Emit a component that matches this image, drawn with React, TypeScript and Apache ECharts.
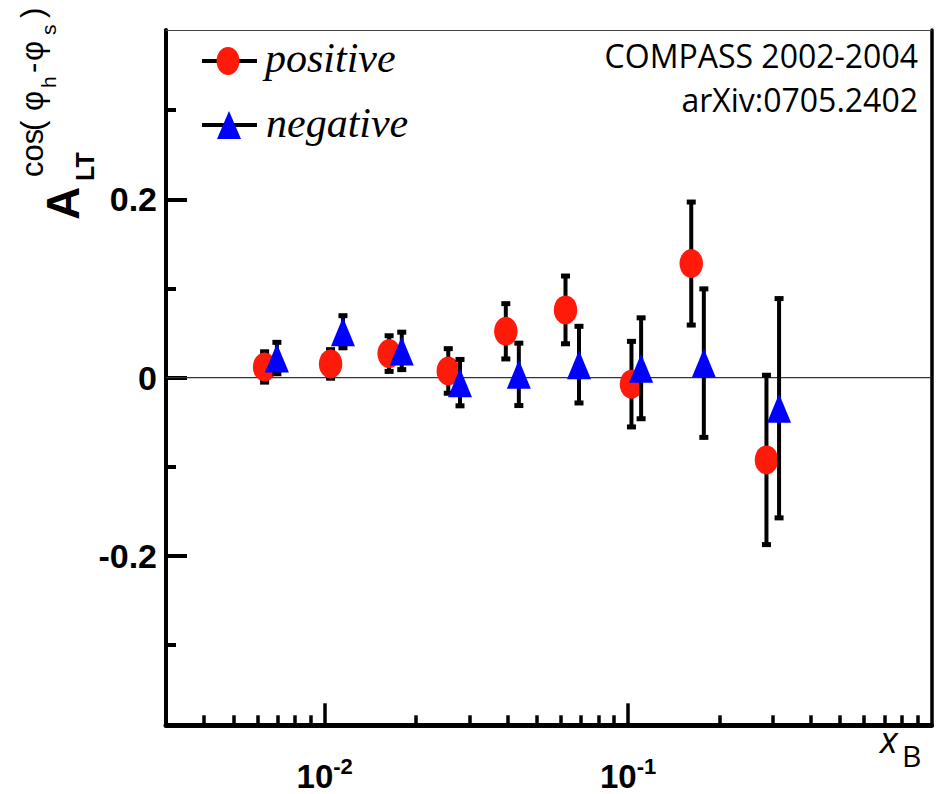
import React, { useEffect, useRef } from 'react';
import * as echarts from 'echarts';

// ---- data ----
const xPositive = [0.00634, 0.01046, 0.01631, 0.02555, 0.03954, 0.0622, 0.1026, 0.1615, 0.2858];
const yPositive = [0.012, 0.0154, 0.027, 0.0075, 0.052, 0.076, -0.0073, 0.128, -0.0923];
const errPositive = [0.017, 0.016, 0.02, 0.025, 0.031, 0.038, 0.048, 0.069, 0.095];

const xNegative = [0.00696, 0.01149, 0.01795, 0.02793, 0.04365, 0.0689, 0.1104, 0.1777, 0.3145];
const yNegative = [0.022, 0.0515, 0.03, -0.0056, 0.0037, 0.0146, 0.0105, 0.0163, -0.0343];
const errNegative = [0.0176, 0.018, 0.021, 0.026, 0.035, 0.043, 0.0566, 0.0833, 0.123];

const xMin = 0.003;
const xMax = 1;
const yMin = -0.39;
const yMax = 0.39;
const xMajorTicks = [0.01, 0.1];
const xMinorTicks = [
  0.004, 0.005, 0.006, 0.007, 0.008, 0.009,
  0.02, 0.03, 0.04, 0.05, 0.06, 0.07, 0.08, 0.09,
  0.2, 0.3, 0.4, 0.5, 0.6, 0.7, 0.8, 0.9,
];
const yMajorTicks = [-0.2, 0, 0.2];
const yMinorTicks = [-0.3, -0.1, 0.1, 0.3];

const legendLabels = ['positive', 'negative'];
const infoLines = ['COMPASS 2002-2004', 'arXiv:0705.2402'];

const RED = '#ff1a0a';
const BLUE = '#0000ff';
const SANS = "'Liberation Sans', Arial, sans-serif";

const errorBarRender = (_params: any, api: any) => {
  const x = api.value(0);
  const y = api.value(1);
  const e = api.value(2);
  const top = api.coord([x, y + e]);
  const bot = api.coord([x, y - e]);
  const capW = 9;
  const capH = 5;
  return {
    type: 'group',
    children: [
      {
        type: 'line',
        shape: { x1: top[0], y1: top[1], x2: bot[0], y2: bot[1] },
        style: { stroke: '#000', lineWidth: 4 },
      },
      {
        type: 'rect',
        shape: { x: top[0] - capW / 2, y: top[1] - capH / 2, width: capW, height: capH },
        style: { fill: '#000' },
      },
      {
        type: 'rect',
        shape: { x: bot[0] - capW / 2, y: bot[1] - capH / 2, width: capW, height: capH },
        style: { fill: '#000' },
      },
    ],
  };
};

function rotText(text: string, x: number, y: number, size: number, bold = false) {
  return {
    type: 'text',
    x,
    y,
    rotation: Math.PI / 2,
    style: {
      text,
      fontFamily: SANS,
      fontSize: size,
      fontWeight: bold ? 'bold' : 'normal',
      fill: '#000',
      align: 'left',
      verticalAlign: 'middle',
    },
  };
}

export default function App() {
  const ref = useRef<HTMLDivElement>(null);

  useEffect(() => {
    if (!ref.current) return;
    const chart = echarts.init(ref.current, undefined, { renderer: 'svg' });

    const posData = xPositive.map((x, i) => [x, yPositive[i], errPositive[i]]);
    const negData = xNegative.map((x, i) => [x, yNegative[i], errNegative[i]]);

    const option: any = {
      animation: false,
      backgroundColor: '#fff',
      grid: { left: 166, top: 30, width: 765.5, height: 695.3, containLabel: false },
      xAxis: [
        {
          type: 'log',
          logBase: 10,
          min: xMin,
          max: xMax,
          position: 'bottom',
          axisLine: { show: true, onZero: false, lineStyle: { color: '#000', width: 5 } },
          axisTick: { show: true, inside: true, length: 22, lineStyle: { color: '#000', width: 3.5 }, customValues: xMajorTicks },
          minorTick: { show: false },
          splitLine: { show: false },
          axisLabel: {
            show: true,
            customValues: xMajorTicks,
            margin: 30,
            formatter: (v: number) => `{b|10}{s|${Math.round(Math.log10(v))}}`,
            rich: {
              b: { fontFamily: SANS, fontWeight: 'bold', fontSize: 33, lineHeight: 38, color: '#000', verticalAlign: 'bottom' },
              s: { fontFamily: SANS, fontWeight: 'bold', fontSize: 22, lineHeight: 10, color: '#000', verticalAlign: 'top' },
            },
          },
        },
        {
          type: 'log',
          logBase: 10,
          min: xMin,
          max: xMax,
          position: 'bottom',
          axisLine: { show: false, onZero: false },
          axisTick: { show: true, inside: true, length: 10, lineStyle: { color: '#000', width: 3.5 }, customValues: xMinorTicks },
          axisLabel: { show: false },
          splitLine: { show: false },
        },
        {
          type: 'log',
          logBase: 10,
          min: xMin,
          max: xMax,
          position: 'top',
          axisLine: { show: true, onZero: false, lineStyle: { color: '#444', width: 1.2 } },
          axisTick: { show: false },
          axisLabel: { show: false },
          splitLine: { show: false },
        },
      ],
      yAxis: [
        {
          type: 'value',
          min: yMin,
          max: yMax,
          position: 'left',
          axisLine: { show: true, onZero: false, lineStyle: { color: '#000', width: 4 } },
          axisTick: { show: true, inside: true, length: 21, lineStyle: { color: '#000', width: 4 }, customValues: yMajorTicks },
          splitLine: { show: false },
          axisLabel: {
            show: true,
            customValues: yMajorTicks,
            formatter: (v: number) => (Math.abs(v) < 1e-9 ? '0' : v.toFixed(1)),
            fontFamily: SANS,
            fontWeight: 'bold',
            fontSize: 34,
            color: '#000',
            margin: 9,
            padding: [10, 0, 0, 0],
          },
        },
        {
          type: 'value',
          min: yMin,
          max: yMax,
          position: 'left',
          axisLine: { show: false, onZero: false },
          axisTick: { show: true, inside: true, length: 10, lineStyle: { color: '#000', width: 4 }, customValues: yMinorTicks },
          axisLabel: { show: false },
          splitLine: { show: false },
        },
        {
          type: 'value',
          min: yMin,
          max: yMax,
          position: 'right',
          axisLine: { show: true, onZero: false, lineStyle: { color: '#000', width: 3.5 } },
          axisTick: { show: false },
          axisLabel: { show: false },
          splitLine: { show: false },
        },
      ],
      series: [
        {
          type: 'line',
          name: 'zero',
          data: [[xMin, 0], [xMax, 0]],
          symbol: 'none',
          lineStyle: { color: '#333', width: 1.3 },
          z: 1,
          silent: true,
        },
        {
          type: 'custom',
          name: 'positive-err',
          data: posData,
          encode: { x: 0, y: 1 },
          renderItem: errorBarRender,
          clip: false,
          z: 3,
          silent: true,
        },
        {
          type: 'scatter',
          name: 'positive',
          data: posData.map((d) => [d[0], d[1]]),
          symbol: 'circle',
          symbolSize: [23.5, 29],
          itemStyle: { color: RED, opacity: 1 },
          z: 4,
        },
        {
          type: 'custom',
          name: 'negative-err',
          data: negData,
          encode: { x: 0, y: 1 },
          renderItem: errorBarRender,
          clip: false,
          z: 5,
          silent: true,
        },
        {
          type: 'scatter',
          name: 'negative',
          data: negData.map((d) => [d[0], d[1]]),
          symbol: 'triangle',
          symbolSize: [24, 29],
          itemStyle: { color: BLUE, opacity: 1 },
          z: 6,
        },
      ],
      graphic: [
        // legend
        { type: 'line', shape: { x1: 202, y1: 61, x2: 257, y2: 61 }, style: { stroke: '#000', lineWidth: 4 } },
        { type: 'ellipse', shape: { cx: 228, cy: 61, rx: 11.5, ry: 14 }, style: { fill: RED } },
        {
          type: 'text', x: 265, y: 58,
          style: { text: legendLabels[0], fontFamily: "'Liberation Serif', 'Times New Roman', serif", fontStyle: 'italic', fontSize: 42, fill: '#000', align: 'left', verticalAlign: 'middle' },
        },
        { type: 'line', shape: { x1: 202, y1: 125, x2: 257, y2: 125 }, style: { stroke: '#000', lineWidth: 4 } },
        { type: 'polygon', shape: { points: [[229, 111], [241, 139], [217, 139]] }, style: { fill: BLUE } },
        {
          type: 'text', x: 266, y: 123,
          style: { text: legendLabels[1], fontFamily: "'Liberation Serif', 'Times New Roman', serif", fontStyle: 'italic', fontSize: 42, fill: '#000', align: 'left', verticalAlign: 'middle' },
        },
        // info text
        {
          type: 'text', x: 918, y: 55.6,
          style: { text: infoLines[0], fontFamily: "'Open Sans', sans-serif", fontSize: 32, fill: '#000', align: 'right', verticalAlign: 'middle' },
        },
        {
          type: 'text', x: 918, y: 99.6,
          style: { text: infoLines[1], fontFamily: "'Open Sans', sans-serif", fontSize: 32, fill: '#000', align: 'right', verticalAlign: 'middle' },
        },
        // x axis name
        {
          type: 'text', x: 880, y: 738.6,
          style: { text: 'x', fontFamily: "'Open Sans', sans-serif", fontStyle: 'italic', fontSize: 37, fill: '#000', align: 'left', verticalAlign: 'middle' },
        },
        {
          type: 'text', x: 902, y: 755,
          style: { text: 'B', fontFamily: "'Open Sans', sans-serif", fontSize: 30, fill: '#000', align: 'left', verticalAlign: 'middle' },
        },
        // y axis name (rotated)
        rotText('A', 63.4, 220, 46, true),
        rotText('LT', 85, 181, 25, true),
        rotText('cos', 32, 177, 31),
        rotText('(', 32, 131, 31),
        rotText('φ', 32, 111, 31),
        rotText('h', 48, 88, 21),
        rotText('-', 32, 73, 31),
        rotText('φ', 32, 61, 31),
        rotText('s', 48, 35, 21),
        rotText(')', 32, 18, 31),
      ],
    };

    chart.setOption(option);
    return () => {
      chart.dispose();
    };
  }, []);

  return (
    <div
      ref={ref}
      style={{ position: 'absolute', left: 0, top: 0, width: 941, height: 794, background: '#fff' }}
    />
  );
}
